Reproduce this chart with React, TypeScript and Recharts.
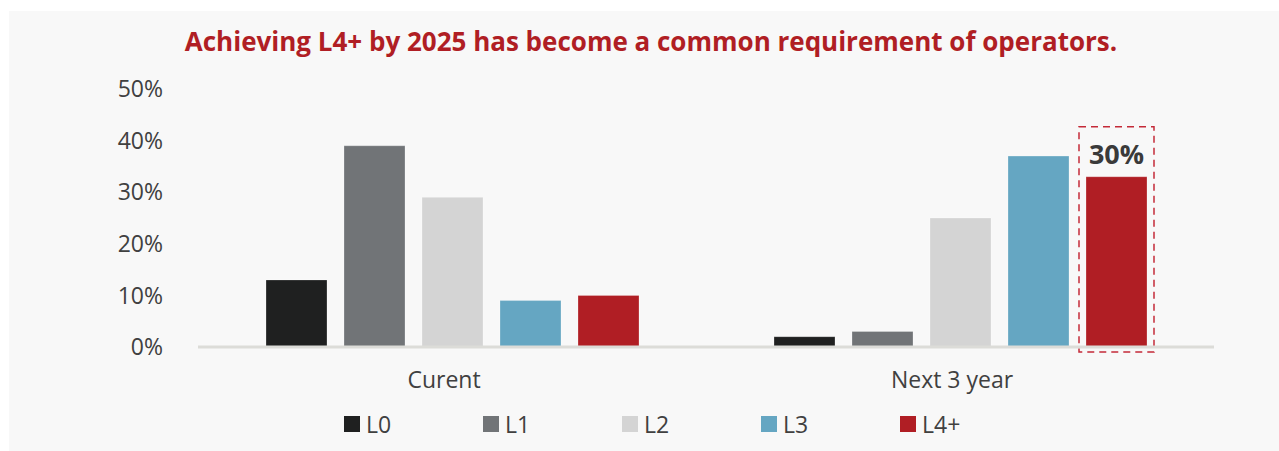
import React from 'react';
import { BarChart, Bar, XAxis, YAxis, Legend, Rectangle } from 'recharts';

// Share of operators by autonomous network level
const categories = ['Curent', 'Next 3 year'];
const levels = ['L0', 'L1', 'L2', 'L3', 'L4+'];
const l0 = [13, 2];
const l1 = [39, 3];
const l2 = [29, 25];
const l3 = [9, 37];
const l4 = [10, 33];
const callouts = ['', '30%'];
const yTicks = [0, 10, 20, 30, 40, 50];

const colors = ['#1f2020', '#717477', '#d4d4d4', '#65a6c2', '#b01e24'];
const FONT = '"Open Sans", "Noto Sans", sans-serif';

const seriesValues = [l0, l1, l2, l3, l4];
const keys = ['l0', 'l1', 'l2', 'l3', 'l4'];

const data = categories.map((name, i) => {
  const row: Record<string, string | number> = { name };
  keys.forEach((k, s) => {
    row[k] = seriesValues[s][i];
  });
  return row;
});

// L4+ bar gets a dashed highlight box + callout when one is given
const HighlightBar = (props: any) => {
  const { x, y, width, height, index } = props;
  const text = callouts[index];
  return (
    <g>
      <Rectangle {...props} />
      {text && (
        <g>
          <rect
            x={x - 7}
            y={y - 50}
            width={width + 14}
            height={height + 55}
            fill="none"
            stroke="#c42a38"
            strokeWidth={1.5}
            strokeDasharray="7 5"
          />
          <text
            x={x + width / 2}
            y={y - 13}
            textAnchor="middle"
            fontFamily={FONT}
            fontWeight={700}
            fontSize={27}
            fill="#3a3a3a"
          >
            {text}
          </text>
        </g>
      )}
    </g>
  );
};

const LegendContent = () => (
  <div style={{ position: 'relative', height: 30, fontFamily: FONT, fontSize: 23, color: '#404040' }}>
    {levels.map((name, i) => (
      <div
        key={name}
        style={{ position: 'absolute', left: 344 + i * 139, top: 0, height: 30, display: 'flex', alignItems: 'center' }}
      >
        <span style={{ display: 'inline-block', width: 16, height: 16, background: colors[i], marginRight: 6 }} />
        <span>{name}</span>
      </div>
    ))}
  </div>
);

export default function App() {
  return (
    <div style={{ position: 'absolute', left: 0, top: 0, width: 1279, height: 451, background: '#ffffff' }}>
      <div style={{ position: 'absolute', left: 9, top: 11, width: 1270, height: 440, background: '#f8f8f8' }} />
      <div
        style={{
          position: 'absolute',
          left: 0,
          top: 23,
          width: 1302,
          textAlign: 'center',
          fontFamily: FONT,
          fontWeight: 700,
          fontSize: 26,
          color: '#b01e24',
        }}
      >
        Achieving L4+ by 2025 has become a common requirement of operators.
      </div>
      <div style={{ position: 'absolute', left: 0, top: 0 }}>
        <BarChart
          width={1279}
          height={451}
          data={data}
          margin={{ top: 89, right: 65, bottom: 24, left: 0 }}
          barGap={17}
          barCategoryGap={67}
        >
          <XAxis
            dataKey="name"
            height={50}
            axisLine={{ stroke: '#dcdcd8', strokeWidth: 3 }}
            tickLine={false}
            tickSize={0}
            tickMargin={25}
            tick={{ fill: '#404040', fontSize: 23, fontFamily: FONT, dx: -8 }}
          />
          <YAxis
            width={198}
            domain={[0, 50]}
            ticks={yTicks}
            axisLine={false}
            tickLine={false}
            tickSize={0}
            tickMargin={35}
            tickFormatter={(v: number) => `${v}%`}
            tick={{ fill: '#404040', fontSize: 23, fontFamily: FONT }}
          />
          <Legend
            content={<LegendContent />}
            wrapperStyle={{ position: 'absolute', top: 409, left: 0, width: 1279, height: 30 }}
          />
          {keys.map((k, i) => (
            <Bar
              key={k}
              dataKey={k}
              name={levels[i]}
              fill={colors[i]}
              stroke="#ffffff"
              strokeOpacity={0.25}
              strokeWidth={1}
              barSize={61}
              isAnimationActive={false}
              shape={k === 'l4' ? <HighlightBar /> : undefined}
            />
          ))}
        </BarChart>
      </div>
    </div>
  );
}
